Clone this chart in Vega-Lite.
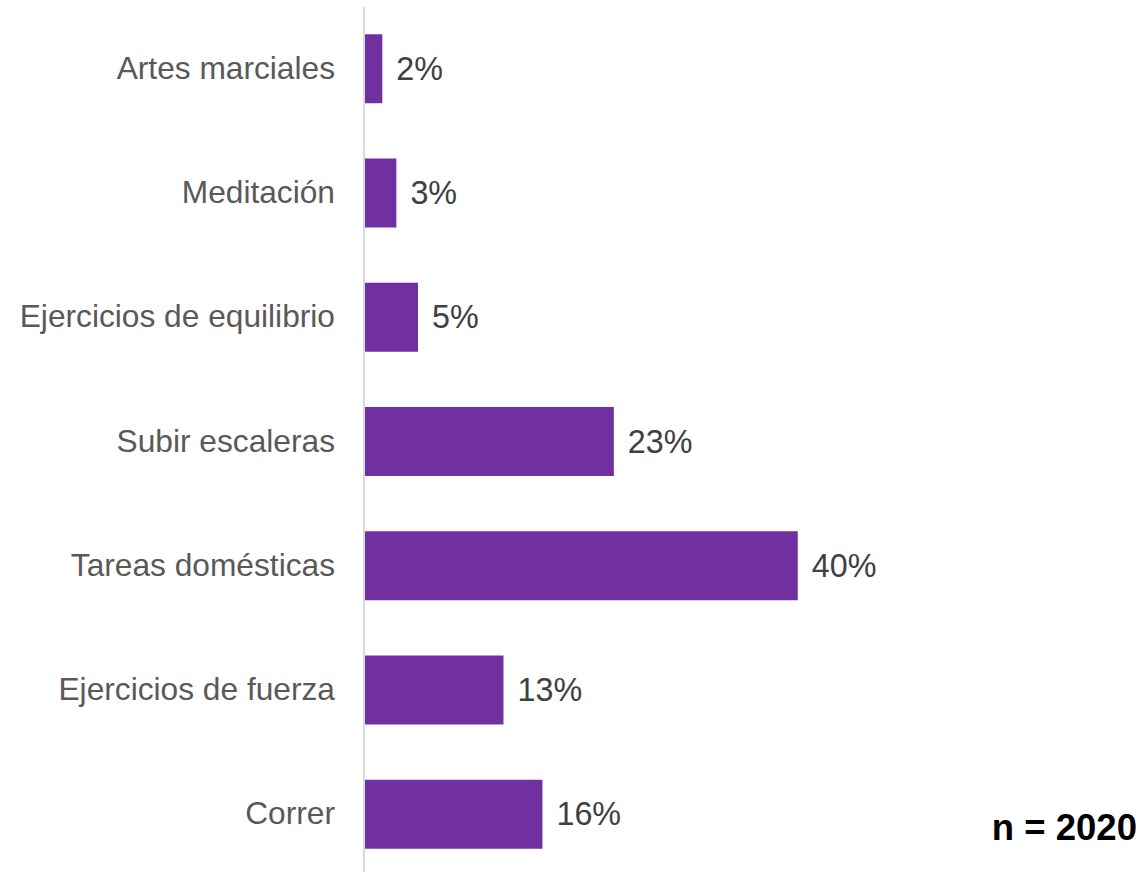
{
  "$schema": "https://vega.github.io/schema/vega-lite/v6.json",
  "autosize": {"type": "none"},
  "padding": {"left": 365, "top": 6.5, "right": 0, "bottom": 0},
  "width": 779,
  "height": 870,
  "background": "white",
  "config": {
    "view": {"stroke": null},
    "font": "Liberation Sans"
  },
  "datasets": {
    "bars": [
      {"activity": "Artes marciales", "share": 0.016},
      {"activity": "Meditación", "share": 0.029},
      {"activity": "Ejercicios de equilibrio", "share": 0.049},
      {"activity": "Subir escaleras", "share": 0.23},
      {"activity": "Tareas domésticas", "share": 0.40},
      {"activity": "Ejercicios de fuerza", "share": 0.128},
      {"activity": "Correr", "share": 0.164}
    ],
    "note": [
      {"activity": "Correr", "share": 0.7135, "note": "n = 2020"}
    ]
  },
  "layer": [
    {
      "data": {"name": "bars"},
      "mark": {"type": "bar", "color": "#7030A0"},
      "encoding": {
        "y": {
          "field": "activity",
          "type": "nominal",
          "sort": null,
          "scale": {"paddingInner": 0.445, "paddingOuter": 0.2225},
          "axis": {
            "title": null,
            "ticks": false,
            "grid": false,
            "domain": true,
            "domainColor": "#d9d9d9",
            "domainWidth": 2,
            "offset": 1.5,
            "labelPadding": 29,
            "labelFont": "Liberation Sans",
            "labelFontSize": 31.7,
            "labelColor": "#595959",
            "labelLimit": 400
          }
        },
        "x": {
          "field": "share",
          "type": "quantitative",
          "scale": {"domain": [0, 0.72], "nice": false, "zero": true},
          "axis": null
        }
      }
    },
    {
      "data": {"name": "bars"},
      "mark": {
        "type": "text",
        "align": "left",
        "baseline": "middle",
        "dx": 14,
        "dy": 1,
        "fontSize": 32.3,
        "color": "#404040",
        "font": "Liberation Sans"
      },
      "encoding": {
        "y": {"field": "activity", "type": "nominal", "sort": null},
        "x": {"field": "share", "type": "quantitative"},
        "text": {"field": "share", "type": "quantitative", "format": ".0%"}
      }
    },
    {
      "data": {"name": "note"},
      "mark": {
        "type": "text",
        "align": "right",
        "baseline": "alphabetic",
        "dy": 26,
        "fontSize": 36.5,
        "fontWeight": "bold",
        "color": "#000000",
        "font": "Liberation Sans"
      },
      "encoding": {
        "y": {"field": "activity", "type": "nominal", "sort": null},
        "x": {"field": "share", "type": "quantitative"},
        "text": {"field": "note", "type": "nominal"}
      }
    }
  ]
}
